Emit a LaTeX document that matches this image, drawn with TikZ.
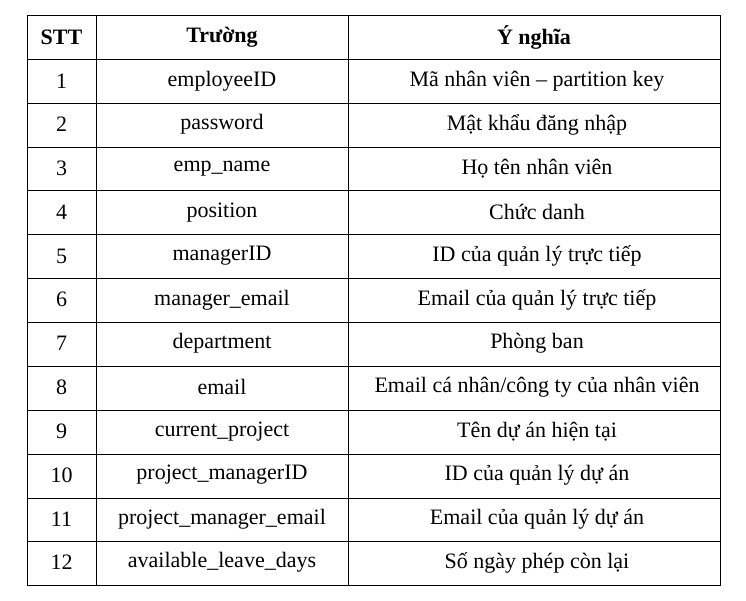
\documentclass[tikz,border=0pt]{standalone}
\usepackage{fontspec}
\setmainfont{Liberation Serif}
\begin{document}
\begin{tikzpicture}[x=0.5pt,y=-0.5pt,font=\fontsize{11}{13}\selectfont]
\tikzset{cell/.style={anchor=center, inner sep=0pt}}
\useasboundingbox (0,0) rectangle (746,601);
% grid
\draw (27,15) rectangle (720,585);
\draw (96,15) -- (96,585);
\draw (348,15) -- (348,585);
\foreach \y in {59,103,147,190,234,278,322,366,410,454,498,541}
  \draw (27,\y) -- (720,\y);
% header
\node[cell, font=\fontsize{11}{13}\selectfont\bfseries] (h1) at (61.5,37) {STT};
\node[cell, font=\fontsize{11}{13}\selectfont\bfseries] (h2) at (222,37) {Trường};
\node[cell, font=\fontsize{11}{13}\selectfont\bfseries] (h3) at (534,37) {Ý nghĩa};
% rows
\foreach \n/\f/\m [count=\i] in {
  1/employeeID/{Mã nhân viên -- partition key},
  2/password/{Mật khẩu đăng nhập},
  3/emp\_name/{Họ tên nhân viên},
  4/position/{Chức danh},
  5/managerID/{ID của quản lý trực tiếp},
  6/manager\_email/{Email của quản lý trực tiếp},
  7/department/{Phòng ban},
  8/email/{Email cá nhân/công ty của nhân viên},
  9/current\_project/{Tên dự án hiện tại},
  10/project\_managerID/{ID của quản lý dự án},
  11/project\_manager\_email/{Email của quản lý dự án},
  12/available\_leave\_days/{Số ngày phép còn lại}}{
  \node[cell] (stt\i) at (61.5,37+43.8*\i) {\n};
  \node[cell] (field\i) at (222,37+43.8*\i) {\f};
  \node[cell] (mean\i) at (537,37+43.8*\i) {\m};
}
\end{tikzpicture}
\end{document}
